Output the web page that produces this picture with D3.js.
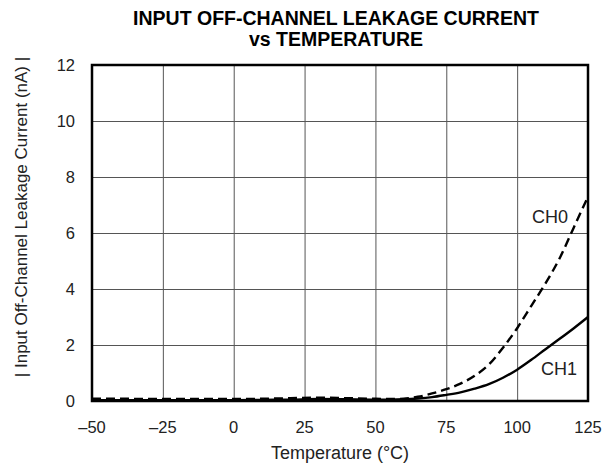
<!DOCTYPE html>
<html><head><meta charset="utf-8">
<script src="https://cdn.jsdelivr.net/npm/d3@7"></script>
<style>body{margin:0;background:#fff}svg{display:block}text{font-family:"Liberation Sans",Arial,sans-serif}</style>
</head><body><svg id="c" width="613" height="466"></svg>
<script>
const xTicks = [-50, -25, 0, 25, 50, 75, 100, 125];
const yTicks = [0, 2, 4, 6, 8, 10, 12];
const temps = [-50, -40, -30, -20, -10, 0, 10, 20, 30, 40, 50, 55, 60, 65, 70, 75, 80, 85, 90, 95, 100, 105, 110, 115, 120, 125];
const ch0 = [0.08, 0.08, 0.07, 0.07, 0.07, 0.07, 0.08, 0.1, 0.12, 0.1, 0.08, 0.07, 0.08, 0.15, 0.27, 0.42, 0.62, 0.9, 1.3, 1.9, 2.6, 3.4, 4.2, 5.1, 6.2, 7.3];
const ch1 = [0.03, 0.03, 0.03, 0.03, 0.03, 0.03, 0.04, 0.05, 0.07, 0.06, 0.05, 0.05, 0.06, 0.09, 0.14, 0.22, 0.31, 0.44, 0.6, 0.83, 1.12, 1.47, 1.85, 2.22, 2.6, 3.0];

const svg = d3.select("#c");
const x = d3.scaleLinear().domain([-50, 125]).range([92, 588]);
const y = d3.scaleLinear().domain([0, 12]).range([401, 65]);

// grid
svg.append("g").attr("transform", "translate(0,401)")
  .call(d3.axisBottom(x).tickValues(xTicks).tickSize(-336).tickFormat(""))
  .call(g => g.select(".domain").remove())
  .call(g => g.selectAll("line").attr("stroke", "#555").attr("stroke-width", 1));
svg.append("g").attr("transform", "translate(92,0)")
  .call(d3.axisLeft(y).tickValues(yTicks).tickSize(-496).tickFormat(""))
  .call(g => g.select(".domain").remove())
  .call(g => g.selectAll("line").attr("stroke", "#555").attr("stroke-width", 1));

// tick labels
svg.append("g").selectAll("text").data(xTicks).join("text")
  .attr("x", d => x(d)).attr("y", 433).attr("text-anchor", "middle")
  .attr("font-size", 16.5).attr("fill", "#222")
  .text(d => d < 0 ? "\u2013" + Math.abs(d) : d);
svg.append("g").selectAll("text").data(yTicks).join("text")
  .attr("x", 75).attr("y", d => y(d) + 6).attr("text-anchor", "end")
  .attr("font-size", 16.5).attr("fill", "#222")
  .text(d => d);

// curves
const pts0 = temps.map((t, i) => [t, ch0[i]]);
const pts1 = temps.map((t, i) => [t, ch1[i]]);
const line = d3.line().x(d => x(d[0])).y(d => y(d[1])).curve(d3.curveMonotoneX);
svg.append("path").attr("d", line(pts0)).attr("fill", "none").attr("stroke", "#000")
  .attr("stroke-width", 2.4).attr("stroke-dasharray", "9,5");
svg.append("path").attr("d", line(pts1)).attr("fill", "none").attr("stroke", "#000")
  .attr("stroke-width", 2.4);

// frame
svg.append("rect").attr("x", 92).attr("y", 65).attr("width", 496).attr("height", 336)
  .attr("fill", "none").attr("stroke", "#000").attr("stroke-width", 2.5);

// labels
svg.append("text").attr("x", 550).attr("y", 223).attr("text-anchor", "middle")
  .attr("font-size", 18).attr("fill", "#222").text("CH0");
svg.append("text").attr("x", 559).attr("y", 375).attr("text-anchor", "middle")
  .attr("font-size", 18).attr("fill", "#222").text("CH1");

// titles
svg.append("text").attr("x", 336).attr("y", 25).attr("text-anchor", "middle")
  .attr("font-size", 19.5).attr("font-weight", "bold").text("INPUT OFF-CHANNEL LEAKAGE CURRENT");
svg.append("text").attr("x", 336).attr("y", 46).attr("text-anchor", "middle")
  .attr("font-size", 19.5).attr("font-weight", "bold").text("vs TEMPERATURE");
svg.append("text").attr("x", 340).attr("y", 459).attr("text-anchor", "middle")
  .attr("font-size", 18).attr("fill", "#222").text("Temperature (\u00B0C)");
svg.append("text").attr("transform", "translate(27,217) rotate(-90)").attr("text-anchor", "middle")
  .attr("font-size", 17).attr("fill", "#222").text("| Input Off-Channel Leakage Current (nA) |");
</script></body></html>
